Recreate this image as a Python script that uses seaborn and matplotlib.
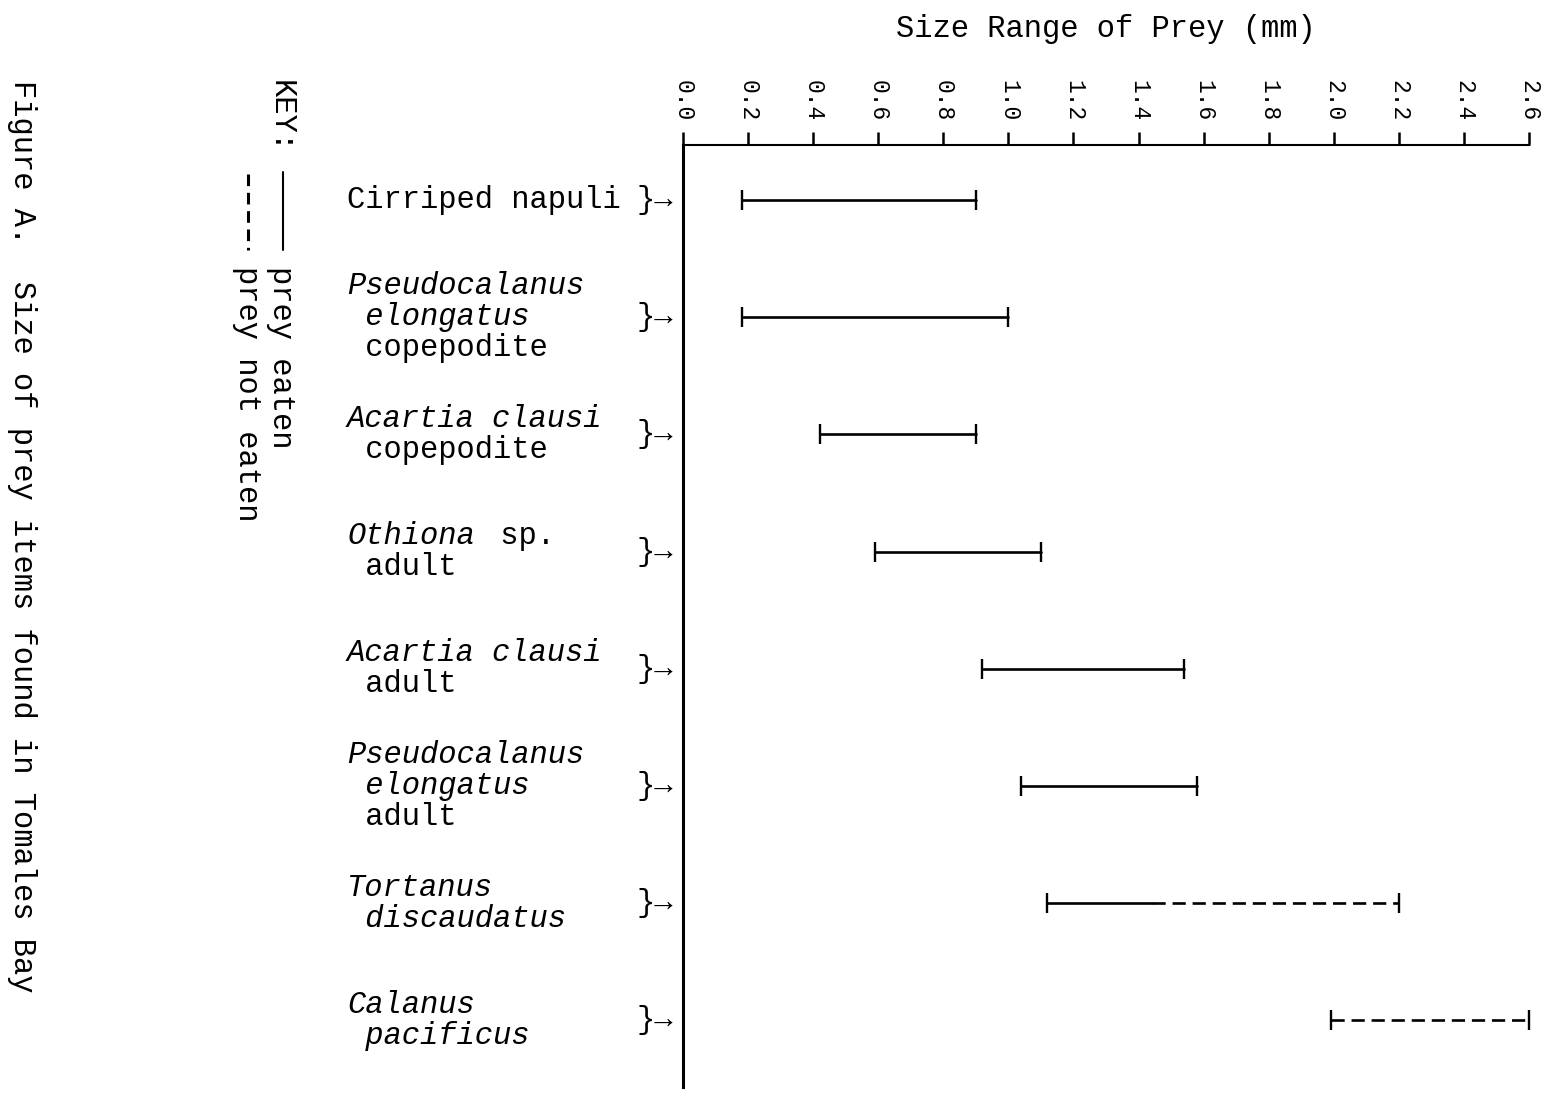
import numpy as np
import pandas as pd
import matplotlib.pyplot as plt
import seaborn as sns
from matplotlib.lines import Line2D

# valores (mm)
species = [
    'Cirriped napuli',
    'Pseudocalanus elongatus copepodite',
    'Acartia clausi copepodite',
    'Othiona sp. adult',
    'Acartia clausi adult',
    'Pseudocalanus elongatus adult',
    'Tortanus discaudatus',
    'Calanus pacificus',
]
size_min = [0.18, 0.18, 0.42, 0.59, 0.92, 1.04, 1.12, 1.99]
size_max = [0.90, 1.00, 0.90, 1.10, 1.54, 1.58, 2.20, 2.60]
eaten_max = [0.90, 1.00, 0.90, 1.10, 1.54, 1.58, 1.44, 1.99]

# linhas do rótulo de cada espécie: (texto, itálico)
label_lines = [
    [[('Cirriped napuli', False)]],
    [[('Pseudocalanus', True)], [(' elongatus', True)], [(' copepodite', False)]],
    [[('Acartia clausi', True)], [(' copepodite', False)]],
    [[('Othiona', True), (' sp.', False)], [(' adult', False)]],
    [[('Acartia clausi', True)], [(' adult', False)]],
    [[('Pseudocalanus', True)], [(' elongatus', True)], [(' adult', False)]],
    [[('Tortanus', True)], [(' discaudatus', True)]],
    [[('Calanus', True)], [(' pacificus', True)]],
]

tick_vals = [0.0, 0.2, 0.4, 0.6, 0.8, 1.0, 1.2, 1.4, 1.6, 1.8, 2.0, 2.2, 2.4, 2.6]
tick_labels = ['0.0', '0.2', '0.4', '0.6', '0.8', '1.0', '1.2', '1.4', '1.6',
               '1.8', '2.0', '2.2', '2.4', '2.6']

status_order = ['prey eaten', 'prey not eaten']

# segmentos em formato longo
rows = []
seg = 0
for i, name in enumerate(species):
    if eaten_max[i] > size_min[i]:
        rows.append((name, 'prey eaten', size_min[i], seg))
        rows.append((name, 'prey eaten', eaten_max[i], seg))
        seg += 1
    if size_max[i] > eaten_max[i]:
        rows.append((name, 'prey not eaten', eaten_max[i], seg))
        rows.append((name, 'prey not eaten', size_max[i], seg))
        seg += 1
df = pd.DataFrame(rows, columns=['species', 'status', 'size', 'seg'])

caps = pd.DataFrame({
    'species': species + species,
    'size': size_min + size_max,
})

sns.set_theme(style='white')
plt.rcParams['font.family'] = ['Liberation Mono', 'DejaVu Sans Mono']
plt.rcParams['text.color'] = 'black'
plt.rcParams['axes.labelcolor'] = 'black'

W, H = 1543, 1094
fig = plt.figure(figsize=(W / 100, H / 100), dpi=100)
fig.patch.set_facecolor('white')


def fx(px):
    return px / W


def fy(py):
    return 1 - py / H


ax = fig.add_axes([fx(683), fy(1087), fx(1529) - fx(683), fy(145) - fy(1087)])

sns.lineplot(data=df, x='size', y='species', units='seg', estimator=None,
             style='status', style_order=status_order,
             dashes={'prey eaten': '', 'prey not eaten': (5, 2.6)},
             color='black', lw=1.9, legend=False, ax=ax)
sns.scatterplot(data=caps, x='size', y='species', marker='|', s=210,
                color='black', linewidth=1.7, clip_on=False, ax=ax)

ax.set_xlim(0, 2.6)
ax.set_ylim(7.57, -0.47)

# eixo x no topo
ax.xaxis.tick_top()
ax.xaxis.set_label_position('top')
ax.set_xticks(tick_vals)
ax.set_xticklabels(tick_labels)
ax.tick_params(axis='x', direction='out', length=9.4, width=1.8, pad=7.5,
               labelsize=16.5, labelrotation=-90, colors='black')
ax.tick_params(axis='y', left=False, labelleft=False)
ax.set_xlabel('Size Range of Prey (mm)', fontsize=22, labelpad=31, color='black')
ax.set_ylabel('')

for side in ['right', 'bottom']:
    ax.spines[side].set_visible(False)
ax.spines['left'].set_linewidth(2.2)
ax.spines['top'].set_linewidth(1.5)
ax.spines['left'].set_color('black')
ax.spines['top'].set_color('black')

# rótulos das espécies à esquerda do eixo
fs = 22
x0 = (347 - 683) * 0.72
colw = 19.3 * 0.72
linesp = 31 * 0.72
for i, name in enumerate(species):
    lines = label_lines[i]
    n = len(lines)
    for j, line in enumerate(lines):
        col = 0
        dy = ((n - 1) / 2 - j) * linesp
        for txt, ital in line:
            ax.annotate(txt, xy=(0, name), xytext=(x0 + col * colw, dy),
                        textcoords='offset points', ha='left', va='center',
                        fontsize=fs, fontstyle='italic' if ital else 'normal',
                        annotation_clip=False)
            col += len(txt)
    ax.annotate('}\u2192', xy=(0, name), xytext=(x0 + 15 * colw, 0),
                textcoords='offset points', ha='left', va='center',
                fontsize=fs, annotation_clip=False)

# legenda (KEY) girada
fig.text(fx(281), fy(80), 'KEY:', rotation=-90, ha='center', va='top', fontsize=fs)
fig.text(fx(281), fy(266), 'prey eaten', rotation=-90, ha='center', va='top', fontsize=fs)
fig.text(fx(247), fy(266), 'prey not eaten', rotation=-90, ha='center', va='top', fontsize=fs)
fig.add_artist(Line2D([fx(283), fx(283)], [fy(172), fy(250)], color='black', lw=1.5,
                      transform=fig.transFigure))
fig.add_artist(Line2D([fx(248), fx(248)], [fy(174), fy(250)], color='black', lw=2.2,
                      linestyle=(0, (3.8, 2.2)), transform=fig.transFigure))

# legenda da figura
fig.text(fx(22), fy(80), 'Figure A.  Size of prey items found in Tomales Bay',
         rotation=-90, ha='center', va='top', fontsize=fs)

fig.savefig('out.png', dpi=100, facecolor='white')
